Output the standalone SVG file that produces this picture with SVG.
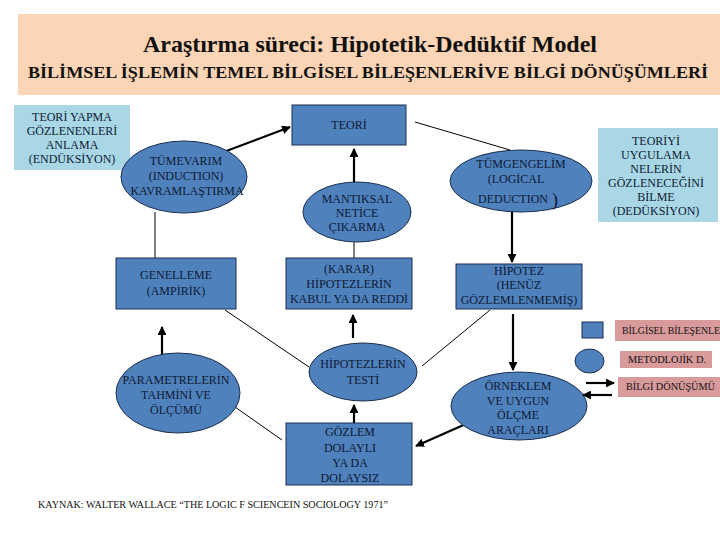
<svg xmlns="http://www.w3.org/2000/svg" width="720" height="540" viewBox="0 0 720 540">
<style>
.t{font-family:'Liberation Serif','Times New Roman',serif;font-size:12px;font-weight:normal;fill:#0d1a33;text-anchor:middle}
.s{font-family:'Liberation Serif','Times New Roman',serif;font-size:9.5px;fill:#111;text-anchor:start}
.n{fill:#4F81BD;stroke:#1c2f4f;stroke-width:1}
.lb{fill:#A9D7E6}
.pk{fill:#D99A9C}
.ln{stroke:#000;stroke-width:1;fill:none}
.th{stroke:#000;stroke-width:2.2;fill:none}
</style>
<defs>
<marker id="ah" viewBox="0 0 10 10" refX="9" refY="5" markerWidth="4" markerHeight="4" orient="auto" markerUnits="strokeWidth"><path d="M0,0 L10,5 L0,10 z" fill="#000"/></marker>
</defs>
<rect width="720" height="540" fill="#fff"/>
<g id="header">
<rect x="18" y="14" width="702" height="81" fill="#FBD5B5"/>
<text x="143" y="52" textLength="454" lengthAdjust="spacingAndGlyphs" style="font-family:'Liberation Serif',serif;font-size:23px;font-weight:bold;fill:#111">Araştırma süreci: Hipotetik-Dedüktif Model</text>
<text x="28" y="78" textLength="680" lengthAdjust="spacingAndGlyphs" style="font-family:'Liberation Serif',serif;font-size:16px;font-weight:bold;fill:#111">BİLİMSEL İŞLEMİN TEMEL BİLGİSEL BİLEŞENLERİVE BİLGİ DÖNÜŞÜMLERİ</text>
</g>
<g id="connectors">
<line class="th" x1="213" y1="156" x2="290" y2="127" marker-end="url(#ah)"/>
<line class="th" x1="354" y1="183" x2="354" y2="149" marker-end="url(#ah)"/>
<line class="ln" x1="415" y1="122" x2="510" y2="150"/>
<line class="th" x1="512" y1="212" x2="512" y2="262" marker-end="url(#ah)"/>
<line class="ln" x1="155" y1="212" x2="155" y2="258"/>
<line class="ln" x1="354" y1="242" x2="354" y2="258"/>
<line class="th" x1="513" y1="314" x2="513" y2="370" marker-end="url(#ah)"/>
<line class="ln" x1="490" y1="310" x2="422" y2="366"/>
<line class="ln" x1="225" y1="310" x2="309" y2="367"/>
<line class="th" x1="162" y1="373" x2="162" y2="327" marker-end="url(#ah)"/>
<line class="th" x1="353" y1="338" x2="353" y2="315" marker-end="url(#ah)"/>
<line class="th" x1="354" y1="441" x2="354" y2="405" marker-end="url(#ah)"/>
<line class="ln" x1="235" y1="407" x2="282" y2="440"/>
<line class="th" x1="468" y1="423" x2="416" y2="446" marker-end="url(#ah)"/>
</g>
<g id="teori-yapma">
<rect class="lb" x="14" y="105" width="116" height="65"/>
<text class="t" x="72" y="121">TEORİ YAPMA</text>
<text class="t" x="72" y="135">GÖZLENENLERİ</text>
<text class="t" x="72" y="149">ANLAMA</text>
<text class="t" x="72" y="163">(ENDÜKSİYON)</text>
</g>
<g id="tumevarim">
<ellipse class="n" cx="184" cy="177" rx="63" ry="36"/>
<text class="t" x="186" y="165">TÜMEVARIM</text>
<text class="t" x="186" y="180">(INDUCTION)</text>
<text class="t" x="187" y="195">KAVRAMLAŞTIRMA</text>
</g>
<g id="teori">
<rect class="n" x="292" y="105" width="114" height="40"/>
<text class="t" x="349" y="129">TEORİ</text>
</g>
<g id="mantiksal">
<ellipse class="n" cx="357" cy="212" rx="54" ry="30"/>
<text class="t" x="357" y="203">MANTIKSAL</text>
<text class="t" x="357" y="217">NETİCE</text>
<text class="t" x="357" y="231">ÇIKARMA</text>
</g>
<g id="tumgengelim">
<ellipse class="n" cx="521" cy="181" rx="71" ry="31"/>
<text class="t" x="521" y="168">TÜMGENGELİM</text>
<text class="t" x="516" y="183">(LOGİCAL</text>
<text class="t" x="513" y="203">DEDUCTION</text>
<text x="552" y="206" style="font-family:'Liberation Serif',serif;font-size:18px;fill:#0d1a33">)</text>
</g>
<g id="teoriyi">
<rect class="lb" x="598" y="128" width="120" height="94"/>
<text class="t" x="656" y="145">TEORİYİ</text>
<text class="t" x="656" y="159">UYGULAMA</text>
<text class="t" x="656" y="173">NELERİN</text>
<text class="t" x="656" y="187">GÖZLENECEĞİNİ</text>
<text class="t" x="656" y="201">BİLME</text>
<text class="t" x="656" y="215">(DEDÜKSİYON)</text>
</g>
<g id="genelleme">
<rect class="n" x="116" y="258" width="120" height="51"/>
<text class="t" x="176" y="279">GENELLEME</text>
<text class="t" x="176" y="295">(AMPİRİK)</text>
</g>
<g id="karar">
<rect class="n" x="286" y="258" width="126" height="51"/>
<text class="t" x="349" y="273">(KARAR)</text>
<text class="t" x="349" y="288">HİPOTEZLERİN</text>
<text class="t" x="349" y="303">KABUL YA DA REDDİ</text>
</g>
<g id="hipotez">
<rect class="n" x="456" y="264" width="126" height="45"/>
<text class="t" x="519" y="275">HİPOTEZ</text>
<text class="t" x="519" y="289">(HENÜZ</text>
<text class="t" x="519" y="304">GÖZLEMLENMEMİŞ)</text>
</g>
<g id="parametre">
<ellipse class="n" cx="178" cy="393" rx="62" ry="40"/>
<text class="t" x="176" y="384">PARAMETRELERİN</text>
<text class="t" x="176" y="399">TAHMİNİ VE</text>
<text class="t" x="176" y="414">ÖLÇÜMÜ</text>
</g>
<g id="hipotezlerin-testi">
<ellipse class="n" cx="363" cy="372" rx="54" ry="29"/>
<text class="t" x="363" y="368">HİPOTEZLERİN</text>
<text class="t" x="363" y="384">TESTİ</text>
</g>
<g id="gozlem">
<rect class="n" x="286" y="423" width="126" height="62"/>
<text class="t" x="350" y="436">GÖZLEM</text>
<text class="t" x="350" y="452">DOLAYLI</text>
<text class="t" x="350" y="467">YA DA</text>
<text class="t" x="350" y="482">DOLAYSIZ</text>
</g>
<g id="orneklem">
<ellipse class="n" cx="519" cy="406" rx="68" ry="34"/>
<text class="t" x="518" y="390">ÖRNEKLEM</text>
<text class="t" x="518" y="405">VE UYGUN</text>
<text class="t" x="518" y="419">ÖLÇME</text>
<text class="t" x="518" y="434">ARAÇLARI</text>
</g>
<g id="legend">
<rect class="n" x="582" y="322" width="21" height="16"/>
<rect class="pk" x="615" y="320" width="105" height="21"/>
<text class="s" x="622" y="334" textLength="98" lengthAdjust="spacingAndGlyphs">BİLGİSEL BİLEŞENLE</text>
<ellipse class="n" cx="589.5" cy="361" rx="14.5" ry="12"/>
<rect class="pk" x="620" y="351" width="92" height="17"/>
<text class="s" x="628" y="363" textLength="78" lengthAdjust="spacingAndGlyphs">METODLOJİK D.</text>
<line class="th" x1="586" y1="383" x2="614" y2="383" marker-end="url(#ah)"/>
<line class="th" x1="612" y1="395" x2="583" y2="395" marker-end="url(#ah)"/>
<rect class="pk" x="618" y="377" width="102" height="20"/>
<text class="s" x="626" y="390" textLength="89" lengthAdjust="spacingAndGlyphs">BİLGİ DÖNÜŞÜMÜ</text>
</g>
<g id="footer">
<text class="s" x="38" y="508" textLength="350" lengthAdjust="spacingAndGlyphs">KAYNAK: WALTER WALLACE “THE LOGIC F SCIENCEIN SOCIOLOGY 1971”</text>
</g>
</svg>
